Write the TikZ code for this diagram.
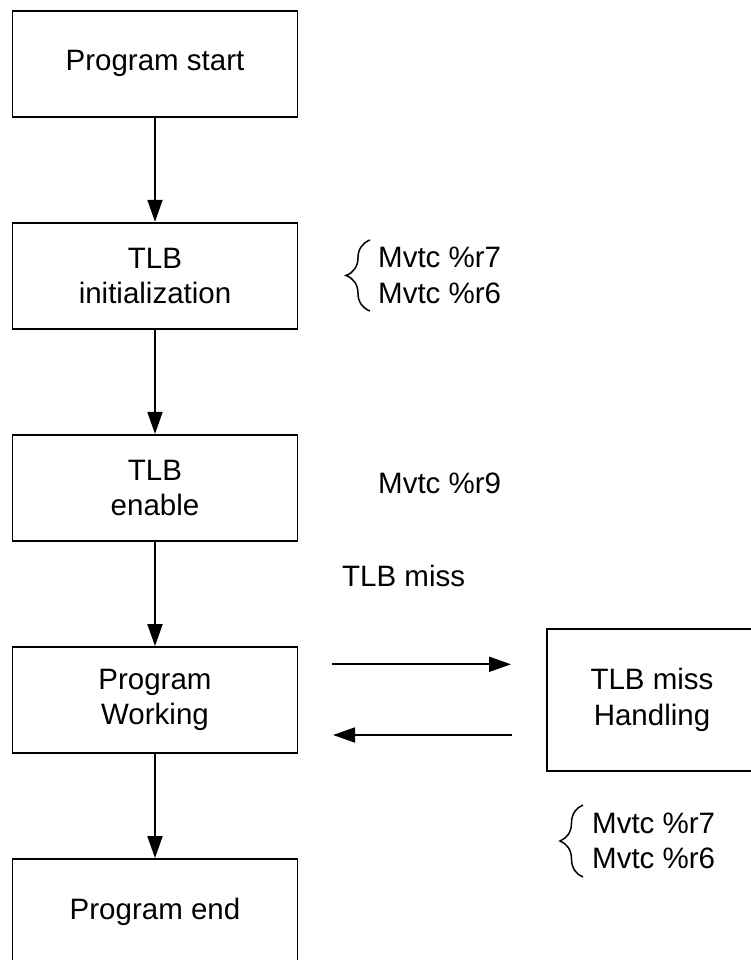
\documentclass[tikz,border=0pt]{standalone}
\usepackage{fontspec}
\setmainfont{Liberation Sans}
\usetikzlibrary{arrows.meta,decorations.pathreplacing}

\begin{document}
\begin{tikzpicture}[x=1pt,y=-1pt,
  txt/.style={font=\fontsize{29.5}{35.5}\selectfont},
  box/.style={draw,line width=1.8pt,rectangle,minimum width=285pt,
    minimum height=106pt,align=center,inner sep=0pt,txt},
  lbl/.style={anchor=base west,inner sep=0pt,txt},
  flow/.style={line width=1.8pt,-{Triangle[length=22pt,width=15pt]}},
  brc/.style={line width=1.5pt,decorate,decoration={brace,amplitude=24pt}}]

\useasboundingbox (0,0) rectangle (751,960);
\clip (0,0) rectangle (751,960);

% main flow
\node[box] (start) at (155,63.7) {Program start};
\node[box,minimum height=106.6pt] (init) at (155,276) {TLB\\initialization};
\node[box,minimum height=106.3pt] (enable) at (155,488) {TLB\\enable};
\node[box] (work) at (155,700) {Program\\Working};
\node[box] (stop) at (155,912) {Program end};

% miss handler
\node[box,minimum width=210pt,minimum height=141.4pt] (miss) at (652,700) {TLB miss\\Handling};

\draw[flow] (start.south) -- (init.north);
\draw[flow] (init.south) -- (enable.north);
\draw[flow] (enable.south) -- (work.north);
\draw[flow] (work.south) -- (stop.north);

% call and return between the program and the handler
\coordinate (goA) at (332,664.3);
\coordinate (goB) at (511,664.3);
\coordinate (backA) at (512,735);
\coordinate (backB) at (333,735);
\draw[flow] (goA) -- (goB);
\draw[flow] (backA) -- (backB);

% annotations
\draw[brc] (370,311) -- (370,240);
\node[lbl] (i7) at (378,267) {Mvtc \%r7};
\node[lbl] (i6) at (378,303) {Mvtc \%r6};

\node[lbl] (e9) at (378,493) {Mvtc \%r9};
\node[lbl] (tm) at (342,586) {TLB miss};

\draw[brc,decoration={amplitude=23pt}] (583,877) -- (583,805);
\node[lbl] (h7) at (592,833) {Mvtc \%r7};
\node[lbl] (h6) at (592,868) {Mvtc \%r6};
\end{tikzpicture}
\end{document}
